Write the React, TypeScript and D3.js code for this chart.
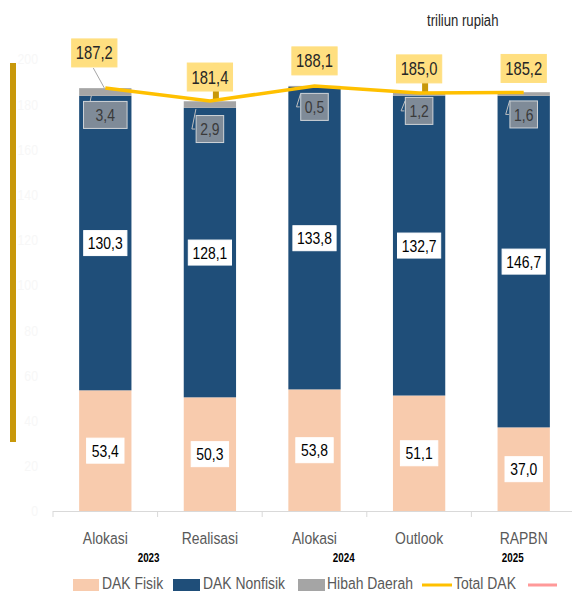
import React from 'react';
import * as d3 from 'd3';

// values in triliun rupiah
const categories = ['Alokasi 2023', 'Realisasi 2023', 'Alokasi 2024', 'Outlook 2024', 'RAPBN 2025'];
const categoryLabels = ['Alokasi', 'Realisasi', 'Alokasi', 'Outlook', 'RAPBN'];
const dakFisik = [53.4, 50.3, 53.8, 51.1, 37.0];
const dakNonfisik = [130.3, 128.1, 133.8, 132.7, 146.7];
const hibahDaerah = [3.4, 2.9, 0.5, 1.2, 1.6];
const totalDak = [187.2, 181.4, 188.1, 185.0, 185.2];
const yearLabels = ['2023', '2024', '2025'];
const yearAnchors = [[0, 1], [2, 3], [4, 4]];
const yTicks = [0, 20, 40, 60, 80, 100, 120, 140, 160, 180, 200];
const legendItems = ['DAK Fisik', 'DAK Nonfisik', 'Hibah Daerah', 'Total DAK'];

const W = 572;
const H = 591;
const FONT = '"Liberation Sans", Arial, sans-serif';
const SQUEEZE = 0.82; // fake "Arial Narrow"

const fmt = (v: number) => v.toFixed(1).replace('.', ',');
const textW = (s: string, size: number) =>
  s.split('').reduce((a, c) => a + (c === ',' ? 0.23 : 0.46) * size, 0);

// condensed text helper
function NText({ x, y, size, fill, anchor = 'start', weight = 'normal', children }: any) {
  return (
    <text
      transform={`translate(${x},${y}) scale(${SQUEEZE},1)`}
      dy="0.36em"
      textAnchor={anchor}
      fontSize={size}
      fontWeight={weight}
      fill={fill}
      fontFamily={FONT}
    >
      {children}
    </text>
  );
}

export default function App() {
  const x = d3.scaleBand().domain(categories).range([53, 576]).paddingInner(0.5).paddingOuter(0.25);
  const y = d3.scaleLinear().domain([0, 200]).range([511, 59]);

  const rows = categories.map((c, i) => ({
    cat: c,
    fisik: dakFisik[i],
    nonfisik: dakNonfisik[i],
    hibah: hibahDaerah[i],
  }));
  const stack = d3.stack<any>().keys(['fisik', 'nonfisik', 'hibah'])(rows);
  const colors: Record<string, string> = { fisik: '#F8CBAD', nonfisik: '#1F4E79', hibah: '#A5A5A5' };

  const cx = (c: string) => (x(c) as number) + x.bandwidth() / 2;
  const line = d3
    .line<number>()
    .x((_, i) => cx(categories[i]))
    .y((d) => y(d));

  // label nudges (from the original layout)
  const totalDx = [-11, 0, 0, 0, 0];
  const totalDy = [-35, -24, -25, -24, -24];
  const hibahDy = [27, 28, 21, 18, 22];
  const yearDx = [-9, -23, -11];
  const step = x.step();

  const box = (
    key: string,
    cxp: number,
    cyp: number,
    label: string,
    size: number,
    fill: string,
    stroke: string,
    color: string,
    padX: number,
    h: number
  ) => {
    const w = textW(label, size) + padX * 2;
    return (
      <g key={key}>
        <rect x={cxp - w / 2} y={cyp - h / 2} width={w} height={h} fill={fill} stroke={stroke} strokeWidth={1} />
        <NText x={cxp} y={cyp} size={size} fill={color} anchor="middle">
          {label}
        </NText>
      </g>
    );
  };

  const legendSwatchX = [73, 173, 298, 422];
  const legendTextX = [102, 203, 327, 454];

  return (
    <svg width={W} height={H} style={{ position: 'absolute', left: 0, top: 0, background: '#fff' }}>
      <NText x={427} y={20} size={16} fill="#262626">
        triliun rupiah
      </NText>

      {/* faint y tick labels */}
      {yTicks.map((t) => (
        <NText key={t} x={38} y={y(t)} size={15} fill="#F7F7F7" anchor="end">
          {t}
        </NText>
      ))}
      <rect x={10} y={63} width={6} height={379} fill="#C8980A" />

      {/* bars */}
      {stack.map((s) => (
        <g key={s.key}>
          {s.map((d, i) => (
            <rect
              key={i}
              x={x(categories[i])}
              y={y(d[1])}
              width={x.bandwidth()}
              height={y(d[0]) - y(d[1])}
              fill={colors[s.key]}
            />
          ))}
        </g>
      ))}

      {/* x axis */}
      <line x1={53} x2={W} y1={511.5} y2={511.5} stroke="#D9D9D9" />
      {categories.map((c) => (
        <line key={c} x1={(x(c) as number) - step * 0.25} x2={(x(c) as number) - step * 0.25} y1={511} y2={517} stroke="#D9D9D9" />
      ))}
      {categories.map((c, i) => (
        <NText key={c} x={cx(c)} y={538} size={17} fill="#595959" anchor="middle">
          {categoryLabels[i]}
        </NText>
      ))}
      {yearLabels.map((yl, i) => (
        <NText
          key={yl}
          x={(cx(categories[yearAnchors[i][0]]) + cx(categories[yearAnchors[i][1]])) / 2 + yearDx[i]}
          y={558}
          size={12}
          weight="bold"
          fill="#000"
          anchor="middle"
        >
          {yl}
        </NText>
      ))}

      {/* segment labels */}
      {categories.map((c, i) =>
        box('f' + i, cx(c), y(dakFisik[i] / 2), fmt(dakFisik[i]), 17, '#fff', '#fff', '#000', 5, 25)
      )}
      {categories.map((c, i) =>
        box('n' + i, cx(c), y(dakFisik[i] + dakNonfisik[i] / 2), fmt(dakNonfisik[i]), 17, '#fff', '#fff', '#000', 4, 25)
      )}

      {/* hibah leader lines + labels */}
      {categories.map((c, i) => {
        const top = y(totalDak[i]);
        const bx = cx(c) - textW(fmt(hibahDaerah[i]), 17) / 2 - 5;
        const ly = top + hibahDy[i];
        return (
          <polyline
            key={'hl' + i}
            points={`${cx(c) - 14},${top + 8} ${cx(c) - 18},${ly} ${bx},${ly}`}
            fill="none"
            stroke="#BFBFBF"
            strokeWidth={1}
          />
        );
      })}
      {categories.map((c, i) =>
        box('h' + i, cx(c), y(totalDak[i]) + hibahDy[i], fmt(hibahDaerah[i]), 17, '#7F8B98', '#D0D4D8', '#3A3A3A', i === 0 ? 12 : 4, 27)
      )}

      {/* total line */}
      <line x1={cx(categories[0]) - 1} y1={y(totalDak[0])} x2={cx(categories[0]) - 12} y2={68} stroke="#A6A6A6" />
      {[1, 3].map((i) => (
        <rect key={'st' + i} x={cx(categories[i]) + 3} y={63} width={6} height={y(totalDak[i]) - 63} fill="#C8980A" />
      ))}
      <path d={line(totalDak) as string} fill="none" stroke="#FFC000" strokeWidth={3.5} />
      {categories.map((c, i) =>
        box('t' + i, cx(c) + totalDx[i], y(totalDak[i]) + totalDy[i], fmt(totalDak[i]), 18, '#FFDF80', '#FFDF80', '#262626', 4, 28)
      )}

      {/* legend */}
      <rect x={legendSwatchX[0]} y={579} width={26} height={14} fill="#F8CBAD" />
      <rect x={legendSwatchX[1]} y={579} width={27} height={14} fill="#1F4E79" />
      <rect x={legendSwatchX[2]} y={579} width={27} height={14} fill="#A5A5A5" />
      <line x1={legendSwatchX[3]} x2={452} y1={585} y2={585} stroke="#FFC000" strokeWidth={3} />
      <line x1={528} x2={557} y1={585} y2={585} stroke="#FF9999" strokeWidth={3} />
      {legendItems.map((l, i) => (
        <NText key={l} x={legendTextX[i]} y={582.5} size={17} fill="#595959">
          {l}
        </NText>
      ))}
    </svg>
  );
}
